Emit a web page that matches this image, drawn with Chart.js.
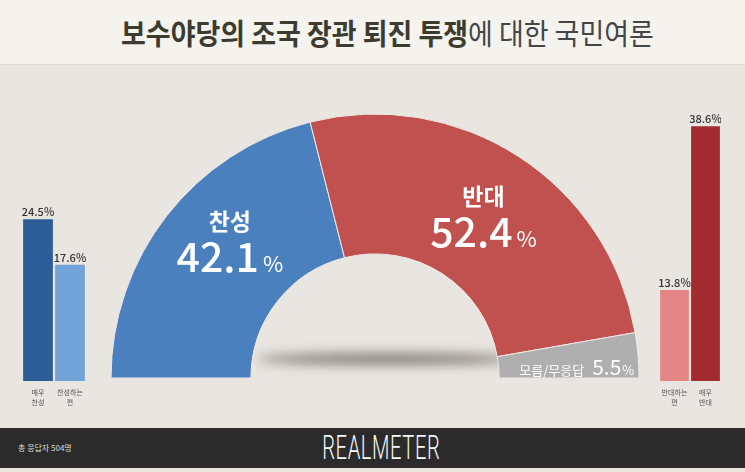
<!DOCTYPE html>
<html>
<head>
<meta charset="utf-8">
<script src="https://cdn.jsdelivr.net/npm/chart.js@4.4.0/dist/chart.umd.min.js"></script>
<style>
  body { margin: 0; background: #fff; }
  #wrap { position: relative; width: 745px; height: 472px; overflow: hidden; background: #e9e5e0; font-family: "Noto Sans CJK KR", sans-serif; }
  #head { position: absolute; left: 0; top: 0; width: 745px; height: 64px; background: #f4f3ee; border-bottom: 1px solid #e2ddd7; }
  #title { position: absolute; left: 15px; top: 14px; width: 745px; text-align: center; font-size: 29px; line-height: 36px; color: #3b3b2e; white-space: nowrap; transform: scaleX(0.93); transform-origin: 372px 0; }
  #title b { font-weight: 700; }
  #title span { font-weight: 400; color: #454545; }
  #foot { position: absolute; left: 0; top: 428px; width: 745px; height: 40px; background: #2b2b2b; }
  #total { position: absolute; left: 18px; top: 14px; font-size: 8px; color: #ddd; }
  #brand { position: absolute; left: 9px; top: 1px; width: 745px; text-align: center; font-family: Roboto, sans-serif; font-weight: 300; font-size: 33px; line-height: 38px; color: #f6f6f6; transform: scaleX(0.61); transform-origin: 372px 0; letter-spacing: 1px; }
  canvas { position: absolute; }
  #c_left { left: 22px; top: 80px; }
  #c_arc { left: 111px; top: 114px; }
  #c_right { left: 659px; top: 80px; }
</style>
</head>
<body>
<div id="wrap">
  <div id="head"><div id="title"><b>보수야당의 조국 장관 퇴진 투쟁</b><span>에 대한 국민여론</span></div></div>
  <canvas id="c_left" width="64" height="330"></canvas>
  <canvas id="c_arc" width="528" height="264"></canvas>
  <canvas id="c_right" width="62" height="330"></canvas>
  <div id="foot"><div id="total">총 응답자 504명</div><div id="brand">REALMETER</div></div>
</div>
<script>
// 전체 결과 (반원)
const arcLabels = ['찬성', '반대', '모름/무응답'];
const arcValues = [42.1, 52.4, 5.5];
const arcColors = ['#4a80be', '#c1514e', '#afafaf'];

// 찬성 세부
const leftLabels = ['매우\n찬성', '찬성하는\n편'];
const leftValues = [24.5, 17.6];
const leftColors = ['#2c5d97', '#72a3d9'];

// 반대 세부
const rightLabels = ['반대하는\n편', '매우\n반대'];
const rightValues = [13.8, 38.6];
const rightColors = ['#e48686', '#a32b2f'];

const FONT = '"Noto Sans CJK KR", sans-serif';
// 라벨 위치 보정 (px)
const labelNudge = [[8, -13], [3, 6], [0, 0]];

// 반원 아래 그림자
const arcShadow = {
  id: 'arcShadow',
  beforeDatasetsDraw(chart) {
    const arc = chart.getDatasetMeta(0).data[0];
    if (!arc) return;
    const ctx = chart.ctx;
    ctx.save();
    ctx.filter = 'blur(6px)';
    ctx.fillStyle = 'rgba(70, 64, 60, 0.6)';
    ctx.beginPath();
    ctx.ellipse(arc.x + 12, arc.y - 19, arc.innerRadius + 6, 6, 0, 0, Math.PI * 2);
    ctx.fill();
    ctx.restore();
  }
};

// 반원 안의 라벨
const arcText = {
  id: 'arcText',
  afterDatasetsDraw(chart) {
    const ctx = chart.ctx;
    const meta = chart.getDatasetMeta(0);
    ctx.save();
    ctx.fillStyle = '#fff';
    meta.data.forEach((arc, i) => {
      const c = arc.getCenterPoint();
      const p = { x: c.x + labelNudge[i][0], y: c.y + labelNudge[i][1] };
      const name = arcLabels[i];
      const num = arcValues[i].toFixed(1);
      if (arcValues[i] < 10) {
        // 작은 조각은 한 줄로
        ctx.font = '400 13px ' + FONT;
        const w1 = ctx.measureText(name).width;
        ctx.font = '400 21px ' + FONT;
        const w2 = ctx.measureText(num).width;
        ctx.font = '400 13px ' + FONT;
        const w3 = ctx.measureText('%').width;
        let x = p.x + 8 - (w1 + 8 + w2 + w3) / 2;
        const y = p.y + 14;
        ctx.textAlign = 'left';
        ctx.textBaseline = 'alphabetic';
        ctx.fillText(name, x, y);
        x += w1 + 8;
        ctx.font = '400 21px ' + FONT;
        ctx.fillText(num, x, y);
        ctx.font = '400 13px ' + FONT;
        ctx.fillText('%', x + w2 + 1, y);
        return;
      }
      ctx.textAlign = 'center';
      ctx.textBaseline = 'alphabetic';
      ctx.font = '700 23px ' + FONT;
      ctx.fillText(name, p.x, p.y - 16);
      ctx.font = '500 41px ' + FONT;
      const wn = ctx.measureText(num).width;
      ctx.font = '400 22px ' + FONT;
      const wp = ctx.measureText('%').width;
      const x0 = p.x - (wn + wp + 4) / 2;
      ctx.textAlign = 'left';
      ctx.font = '500 41px ' + FONT;
      ctx.fillText(num, x0, p.y + 26);
      ctx.font = '400 22px ' + FONT;
      ctx.fillText('%', x0 + wn + 4, p.y + 26);
    });
    ctx.restore();
  }
};

// 막대 위/아래 라벨
const barText = {
  id: 'barText',
  afterDatasetsDraw(chart) {
    const ctx = chart.ctx;
    const meta = chart.getDatasetMeta(0);
    const vals = chart.data.datasets[0].data;
    ctx.save();
    ctx.textAlign = 'center';
    meta.data.forEach((bar, i) => {
      ctx.fillStyle = '#333';
      ctx.font = '500 11px ' + FONT;
      ctx.textBaseline = 'bottom';
      ctx.fillText(vals[i].toFixed(1) + '%', bar.x, bar.y - 2);
      ctx.fillStyle = '#555';
      ctx.font = '400 7px ' + FONT;
      ctx.textBaseline = 'top';
      chart.data.labels[i].split('\n').forEach((line, j) => {
        ctx.fillText(line, bar.x, chart.chartArea.bottom + 8 + j * 10);
      });
    });
    ctx.restore();
  }
};

function criarBarra(id, labels, values, colors) {
  return new Chart(document.getElementById(id), {
    type: 'bar',
    data: {
      labels: labels,
      datasets: [{ data: values, backgroundColor: colors, barPercentage: 0.93, categoryPercentage: 1 }]
    },
    options: {
      responsive: false,
      animation: false,
      layout: { padding: { top: 37, bottom: 29, left: 0, right: 0 } },
      plugins: { legend: { display: false }, tooltip: { enabled: false } },
      scales: {
        x: { display: false },
        y: { display: false, min: 0, max: 40 }
      }
    },
    plugins: [barText]
  });
}

criarBarra('c_left', leftLabels, leftValues, leftColors);
criarBarra('c_right', rightLabels, rightValues, rightColors);

new Chart(document.getElementById('c_arc'), {
  type: 'doughnut',
  data: {
    labels: arcLabels,
    datasets: [{
      data: arcValues,
      backgroundColor: arcColors,
      borderColor: '#f1e9e6',
      borderWidth: 1
    }]
  },
  options: {
    responsive: false,
    animation: false,
    rotation: -90,
    circumference: 180,
    radius: 264,
    cutout: '47%',
    plugins: { legend: { display: false }, tooltip: { enabled: false } }
  },
  plugins: [arcShadow, arcText]
});
</script>
</body>
</html>
